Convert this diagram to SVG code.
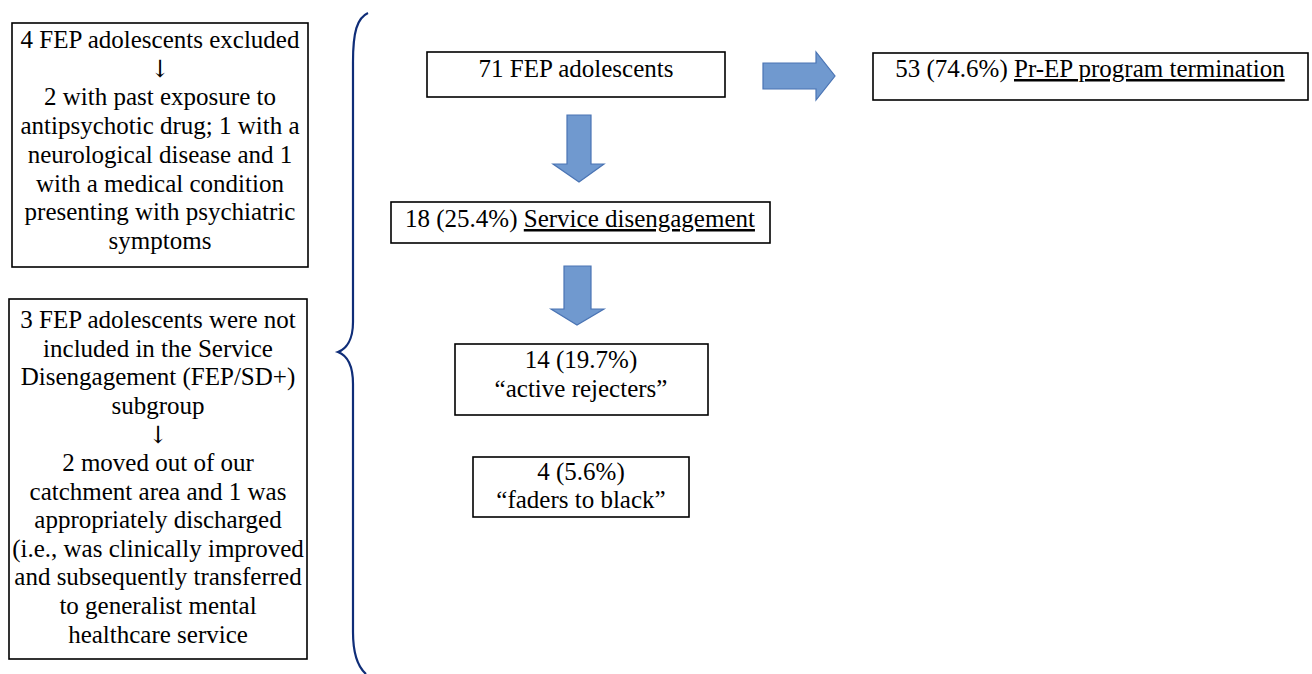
<svg xmlns="http://www.w3.org/2000/svg" width="1312" height="674" viewBox="0 0 1312 674">
<style>
.box{fill:#fff;stroke:#000;stroke-width:1.6}
.t{font-family:'Liberation Serif',Tinos,'Times New Roman',serif;font-size:25px;fill:#000;text-anchor:middle}
.a{font-family:'DejaVu Serif','DejaVu Sans',serif;font-size:24px}
.u{text-decoration:underline}
.arr{fill:#7099cf;stroke:#4a74b4;stroke-width:1.2}
.brace{fill:none;stroke:#0f2d78;stroke-width:2.2}
</style>
<rect width="1312" height="674" fill="#fff"/>
<g id="excluded">
<rect class="box" x="12" y="23" width="296" height="244"/>
<text class="t" x="160" y="48">4 FEP adolescents excluded</text>
<text class="t a" x="160" y="77">↓</text>
<text class="t" x="160" y="105.4">2 with past exposure to</text>
<text class="t" x="160" y="134.1">antipsychotic drug; 1 with a</text>
<text class="t" x="160" y="162.8">neurological disease and 1</text>
<text class="t" x="160" y="191.5">with a medical condition</text>
<text class="t" x="160" y="220.2">presenting with psychiatric</text>
<text class="t" x="160" y="248.9">symptoms</text>
</g>
<g id="notincluded">
<rect class="box" x="9" y="299" width="298" height="360"/>
<text class="t" x="158" y="328">3 FEP adolescents were not</text>
<text class="t" x="158" y="356.6">included in the Service</text>
<text class="t" x="158" y="385.2">Disengagement (FEP/SD+)</text>
<text class="t" x="158" y="413.8">subgroup</text>
<text class="t a" x="158" y="443">↓</text>
<text class="t" x="158" y="471">2 moved out of our</text>
<text class="t" x="158" y="499.6">catchment area and 1 was</text>
<text class="t" x="158" y="528.2">appropriately discharged</text>
<text class="t" x="158" y="556.8">(i.e., was clinically improved</text>
<text class="t" x="158" y="585.4">and subsequently transferred</text>
<text class="t" x="158" y="614">to generalist mental</text>
<text class="t" x="158" y="642.6">healthcare service</text>
</g>
<g id="n71">
<rect class="box" x="427" y="52" width="298" height="45"/>
<text class="t" x="576" y="77">71 FEP adolescents</text>
</g>
<g id="n53">
<rect class="box" x="873" y="53" width="435" height="47"/>
<text class="t" x="1090" y="77">53 (74.6%) <tspan class="u">Pr-EP program termination</tspan></text>
</g>
<g id="n18">
<rect class="box" x="391" y="202" width="379" height="41"/>
<text class="t" x="580" y="227">18 (25.4%) <tspan class="u">Service disengagement</tspan></text>
</g>
<g id="n14">
<rect class="box" x="455" y="344" width="253" height="71"/>
<text class="t" x="581" y="368">14 (19.7%)</text>
<text class="t" x="581" y="397">“active rejecters”</text>
</g>
<g id="n4">
<rect class="box" x="473" y="457" width="216" height="60"/>
<text class="t" x="581" y="480">4 (5.6%)</text>
<text class="t" x="581" y="508">“faders to black”</text>
</g>
<g id="connectors">
<path class="brace" d="M368,13 C357,18 353,32 353,62 L353,322 C353,340 346,349 338,352 C346,355 353,364 353,384 L353,632 C353,655 358,667 366,674"/>
<path class="arr" d="M763,63 L816,63 L816,52 L835,76 L816,100 L816,89 L763,89 Z"/>
<path class="arr" d="M567,115 L591,115 L591,164 L604,164 L579,182 L553,164 L567,164 Z"/>
<path class="arr" d="M564,266 L591,266 L591,309 L604,309 L577,325 L551,309 L564,309 Z"/>
</g>
</svg>
